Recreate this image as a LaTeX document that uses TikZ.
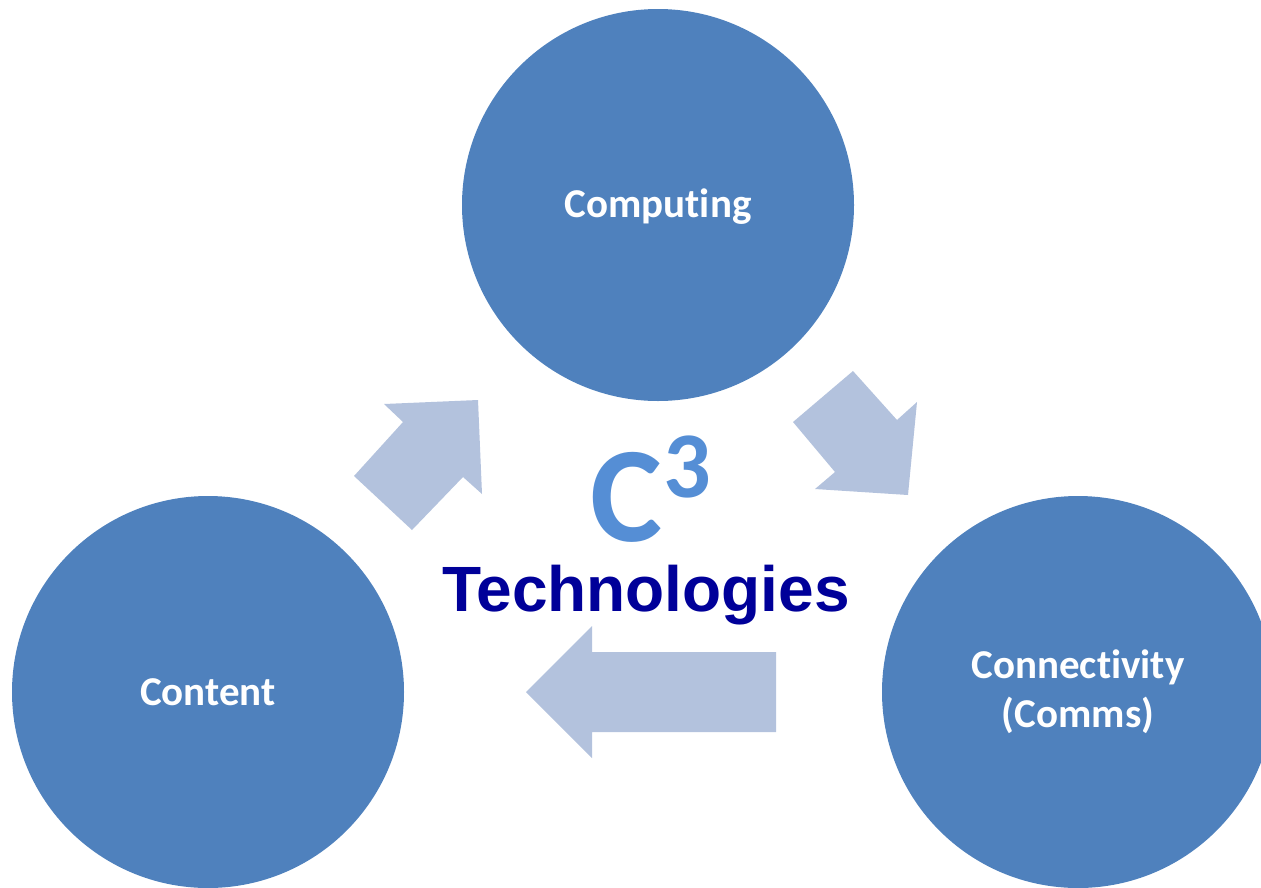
\documentclass[tikz,border=0pt]{standalone}
\usepackage{fontspec}
\newfontfamily\calfont[Ligatures=NoCommon]{Carlito}
\newfontfamily\helvfont{Liberation Sans}
\usepackage{tikz}
\definecolor{circblue}{HTML}{4F81BD}
\definecolor{arrblue}{HTML}{B3C2DD}
\definecolor{cthree}{HTML}{558ED5}
\definecolor{techblue}{HTML}{000099}
\tikzstyle{none}=[inner sep=0pt]
\tikzstyle{bubble}=[circle,fill=circblue,draw=none,minimum size=392pt,inner sep=0pt]
\tikzstyle{wtext}=[inner sep=0pt,anchor=base,text=white,font=\calfont\bfseries\fontsize{41}{49}\selectfont]
\tikzstyle{block}=[fill=arrblue,draw=none]

\begin{document}
\begin{tikzpicture}[x=1pt,y=-1pt]
  \useasboundingbox (0,0) rectangle (1261,887);
  \clip (0,0) rectangle (1261,887);
  \node [style=bubble] (0) at (658, 205) {};
  \node [style=bubble] (1) at (208, 692) {};
  \node [style=bubble] (2) at (1078, 692) {};
  \node [style=wtext] (3) at (658, 217) {Computing};
  \node [style=wtext] (4) at (208, 705) {Content};
  \node [style=wtext] (5) at (1078, 678) {Connectivity};
  \node [style=wtext] (6) at (1078, 727) {(Comms)};
  \node [style=none, anchor=base, text depth=0pt, text=cthree, font=\calfont\bfseries\fontsize{136}{136}\selectfont] (7) at (626, 541) {C};
  \node [style=none, anchor=base, text=cthree, font=\calfont\bfseries\fontsize{94}{94}\selectfont] (8) at (687, 497) {3};
  \node [style=none, anchor=base, text=techblue, font=\helvfont\bfseries\fontsize{64}{64}\selectfont] (9) at (646, 611) {Technologies};
  % left arrow
  \node [style=none] (10) at (526, 692) {};
  \node [style=none] (11) at (592, 626) {};
  \node [style=none] (12) at (592, 652) {};
  \node [style=none] (13) at (776, 652) {};
  \node [style=none] (14) at (776, 732) {};
  \node [style=none] (15) at (592, 732) {};
  \node [style=none] (16) at (592, 758) {};
  % up-right arrow
  \node [style=none] (17) at (478, 400) {};
  \node [style=none] (18) at (482, 494) {};
  \node [style=none] (19) at (463, 477) {};
  \node [style=none] (20) at (412, 530) {};
  \node [style=none] (21) at (354, 476) {};
  \node [style=none] (22) at (403, 422) {};
  \node [style=none] (23) at (384, 404) {};
  % down-right arrow
  \node [style=none] (24) at (908, 495) {};
  \node [style=none] (25) at (815, 489) {};
  \node [style=none] (26) at (835, 472) {};
  \node [style=none] (27) at (793, 422) {};
  \node [style=none] (28) at (853, 371) {};
  \node [style=none] (29) at (897, 420) {};
  \node [style=none] (30) at (917, 402) {};
  \fill [style=block] (10.center) -- (11.center) -- (12.center) -- (13.center) -- (14.center) -- (15.center) -- (16.center) -- cycle;
  \fill [style=block] (17.center) -- (18.center) -- (19.center) -- (20.center) -- (21.center) -- (22.center) -- (23.center) -- cycle;
  \fill [style=block] (24.center) -- (25.center) -- (26.center) -- (27.center) -- (28.center) -- (29.center) -- (30.center) -- cycle;
\end{tikzpicture}
\end{document}
